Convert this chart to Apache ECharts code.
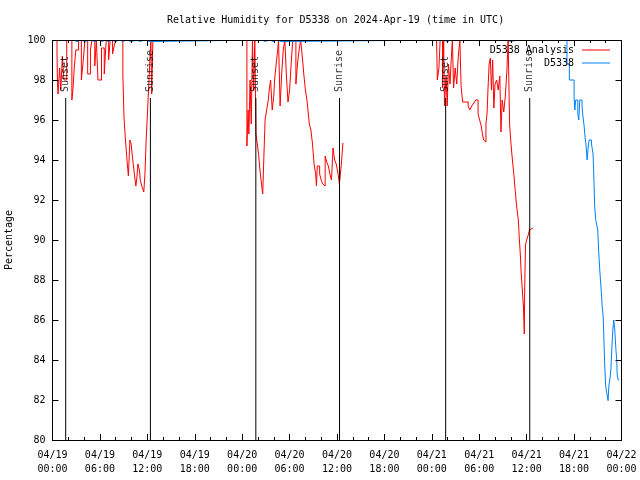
<!DOCTYPE html>
<html><head><meta charset="utf-8">
<script src="https://cdn.jsdelivr.net/npm/echarts@6/dist/echarts.min.js"></script>
<style>html,body{margin:0;padding:0;background:#fff}#c{width:640px;height:480px}</style>
</head><body><div id="c"></div>
<script>
const chartTitle = 'Relative Humidity for D5338 on 2024-Apr-19 (time in UTC)';
const yName = 'Percentage';
const firstDay = 19; // x values are hours since 04/19 00:00 UTC
const analysisName = 'D5338 Analysis';
const obsName = 'D5338';

const analysisHours = [
  0,0.57,0.62,0.7,0.9,1.05,1.25,1.45,1.8,2.45,2.6,2.75,2.95,3.3,3.65,3.9,4.1,4.45,4.8,5.0,
  5.35,5.55,5.75,6.2,6.55,6.8,7.1,7.3,7.6,7.85,8.1,8.9,9.05,9.25,9.45,9.6,9.8,9.95,10.1,10.3,
  10.55,10.7,10.8,11.0,11.1,11.3,11.55,11.7,11.85,12.0,12.15,12.3,12.45,12.55,12.7,
  24.6,24.75,24.85,25.0,25.15,25.3,25.45,25.6,25.75,25.95,26.1,26.25,26.45,26.6,26.75,26.9,27.1,27.3,27.45,27.6,
  27.8,28.0,28.1,28.3,28.5,28.6,28.8,29.0,29.2,29.4,29.6,29.8,30.0,30.2,30.4,30.8,31.0,31.2,31.4,31.6,
  31.8,32.0,32.2,32.4,32.5,32.7,32.9,33.1,33.3,33.4,33.5,33.8,34.0,34.2,34.4,34.5,34.7,34.9,35.1,35.3,
  35.5,35.7,35.9,36.1,36.3,36.55,36.75,36.76,
  48.6,48.7,48.9,49.05,49.35,49.5,49.6,49.8,49.95,50.1,50.3,50.45,50.6,50.75,50.95,51.15,51.35,51.55,51.7,51.9,
  52.6,52.8,53.05,53.3,53.55,53.85,54.05,54.25,54.4,54.55,54.7,54.85,55.0,55.1,55.25,55.4,55.55,55.7,55.85,56.0,
  56.2,56.4,56.6,56.75,56.9,57.1,57.3,57.5,57.65,57.85,58.0,58.15,58.35,58.5,58.7,58.85,58.95,59.05,59.2,59.3,
  59.45,59.6,59.7,59.75,59.85,60.0,60.2,60.35,60.55,60.8
];
const analysisValues = [
  100,99.4,98.0,97.3,98.6,97.5,99.2,98.0,100,97.0,97.6,98.6,99.5,100,98.0,99.0,100,98.3,99.5,100,
  98.7,100,98.0,99.6,98.3,100,99.0,100,99.3,99.8,100,98.3,96.1,94.9,93.9,93.2,95.0,94.8,94.2,93.5,
  92.7,93.2,93.8,93.5,93.0,92.7,92.4,93.3,95.0,96.2,97.5,98.8,100,97.3,100,
  94.7,96.5,95.3,98.0,95.8,100,97.5,100,95.3,94.7,94.2,93.5,92.8,92.3,94.2,96.0,96.5,97.0,97.6,98.0,
  96.5,97.2,98.0,98.8,99.5,100,96.7,98.3,99.5,100,98.2,96.9,97.5,98.8,100,97.8,98.8,99.5,100,99.2,
  98.3,97.5,97.0,96.2,95.8,95.5,94.8,93.8,93.3,92.7,93.7,93.3,93.0,92.8,92.7,94.2,93.9,93.7,93.3,93.0,
  94.6,94.0,93.8,93.4,92.8,93.8,94.85,null,
  100,98.0,98.6,100,97.6,100,96.7,98.2,96.7,98.8,97.8,99.0,100,97.6,98.6,97.8,99.2,100,97.7,96.9,
  96.7,96.5,96.7,96.85,97.0,96.3,96.0,95.7,95.3,95.0,94.9,95.8,96.4,97.5,98.8,99.1,97.5,99.0,96.6,97.8,
  98.0,97.5,98.2,95.4,97.0,96.4,97.2,98.5,100,95.7,94.9,94.2,93.4,92.7,91.8,91.3,91.0,90.2,89.25,88.4,
  87.5,86.6,85.3,87.5,89.75,90.0,90.25,90.5,90.6,90.6
];

const obsHours = [
  0,2.6,3.1,3.7,4.1,4.75,5.4,5.75,6.3,6.65,7.0,7.5,7.9,8.55,8.9,9.4,9.95,10.7,11.1,11.7,12.35,
  26.5,26.9,27.5,27.9,28.5,28.9,49.5,49.95,50.5,50.7,57.6,58.0,58.8,58.95,
  65.1,65.4,66.0,66.1,66.2,66.47,66.6,66.72,67.0,67.1,67.27,67.35,67.52,67.6,67.65,67.8,67.9,68.2,68.4,68.5,
  68.6,68.75,69.0,69.1,69.25,69.43,69.55,69.68,69.76,69.88,70.0,70.2,70.3,70.4,70.5,70.65,70.77,70.9,71.02,71.15,
  71.28,71.4,71.45,71.58,71.7
];
const obsValues = [
  100,99.925,100,99.925,100,99.925,100,99.925,100,99.925,100,99.925,100,99.925,100,99.925,100,99.925,100,99.925,100,
  99.925,100,99.925,100,99.925,100,99.925,100,99.925,100,99.925,100,99.925,100,
  98.8,98.0,97.1,96.5,97.0,96.3,96.0,97.0,96.75,96.25,95.7,95.3,94.7,94.3,94.0,94.7,95.0,94.8,94.3,93.2,
  91.7,90.97,90.5,89.5,88.5,87.5,86.7,86.2,85.2,83.7,82.7,82.2,81.97,82.7,82.95,83.5,84.5,85.5,86.0,85.5,
  84.6,84.0,83.3,83.0,83.0
];

const sunNames = ['Sunset','Sunrise','Sunset','Sunrise','Sunset','Sunrise'];
const sunHours = [1.67,12.39,25.73,36.32,49.75,60.39];
const sunLineTop = 97.1;
const sunLabelBase = 97.4;

const FONT = 'DejaVu Sans Mono';
const pair = (xs, ys) => xs.map((x, i) => [x, ys[i]]);
function fmtX(v) {
  const d = firstDay + Math.floor(v / 24);
  const h = v % 24;
  return '04/' + String(d).padStart(2, '0') + '\n' + String(h).padStart(2, '0') + ':00';
}

const GRID = {left: 52.5, top: 40, width: 569, height: 400};
const chart = echarts.init(document.getElementById('c'), null, {renderer: 'canvas'});
const baseX = {
  type: 'value', min: 0, max: 72, interval: 6,
  axisLine: {show: true, onZero: false, lineStyle: {color: '#000', width: 1}},
  axisTick: {show: true, inside: true, length: 6, lineStyle: {color: '#000'}},
  minorTick: {show: true, splitNumber: 3, length: 3, lineStyle: {color: '#000'}},
  splitLine: {show: false}, z: 10
};
const baseY = {
  type: 'value', min: 80, max: 100, interval: 2,
  axisLine: {show: true, onZero: false, lineStyle: {color: '#000', width: 1}},
  axisTick: {show: true, inside: true, length: 6, lineStyle: {color: '#000'}},
  splitLine: {show: false}, z: 10
};

const series = [
  {name: analysisName, type: 'line', step: 'end', data: pair(analysisHours, analysisValues),
   symbol: 'none', connectNulls: false, lineStyle: {color: '#ff0000', width: 1}, itemStyle: {color: '#ff0000'}, animation: false},
  {name: obsName, type: 'line', step: 'end', data: pair(obsHours, obsValues),
   symbol: 'none', lineStyle: {color: '#0080ff', width: 1}, itemStyle: {color: '#0080ff'}, animation: false}
];
sunHours.forEach((h, i) => {
  series.push({type: 'line', data: [[h, 80], [h, sunLineTop]], symbol: 'none',
    lineStyle: {color: '#000', width: 1}, animation: false, silent: true, z: 3});
});
series.push({type: 'scatter', symbolSize: 0, animation: false, silent: true, z: 4,
  data: sunHours.map((h, i) => ({value: [h, sunLabelBase], name: sunNames[i]})),
  label: {show: true, position: 'inside', rotate: 90, align: 'left', verticalAlign: 'middle',
    formatter: p => p.name, color: '#000', fontFamily: FONT, fontSize: 10}});

chart.setOption({
  animation: false,
  backgroundColor: '#fff',
  title: {text: chartTitle, left: 162, top: 10,
    textStyle: {fontFamily: FONT, fontSize: 10, fontWeight: 'normal', color: '#000'}},
  grid: Object.assign({containLabel: false, outerBoundsMode: 'none'}, GRID),
  legend: [
    {data: [{name: analysisName, icon: 'rect'}], right: 25, top: 40, orient: 'vertical', align: 'right',
     itemWidth: 28, itemHeight: 1, selectedMode: false,
     textStyle: {fontFamily: FONT, fontSize: 10, color: '#000', padding: [0, 3, 0, 0]}},
    {data: [{name: obsName, icon: 'rect'}], right: 25, top: 53, orient: 'vertical', align: 'right',
     itemWidth: 28, itemHeight: 1, selectedMode: false,
     textStyle: {fontFamily: FONT, fontSize: 10, color: '#000', padding: [0, 3, 0, 0]}}
  ],
  graphic: [{type: 'rect', z: 100, silent: true,
    shape: {x: GRID.left - 1, y: GRID.top - 6, width: GRID.width + 2, height: 6},
    style: {fill: '#fff'}}],
  xAxis: [
    Object.assign({}, baseX, {position: 'bottom',
      axisLabel: {show: true, formatter: fmtX, color: '#000', fontFamily: FONT, fontSize: 10, lineHeight: 14, margin: 8}}),
    Object.assign({}, baseX, {position: 'top', axisLabel: {show: false}})
  ],
  yAxis: [
    Object.assign({}, baseY, {position: 'left', name: yName, nameLocation: 'middle', nameRotate: 90, nameGap: 38,
      nameTextStyle: {fontFamily: FONT, fontSize: 10, color: '#000'},
      axisLabel: {show: true, color: '#000', fontFamily: FONT, fontSize: 10, margin: 7}}),
    Object.assign({}, baseY, {position: 'right', axisLabel: {show: false}})
  ],
  series: series
});
</script></body></html>
